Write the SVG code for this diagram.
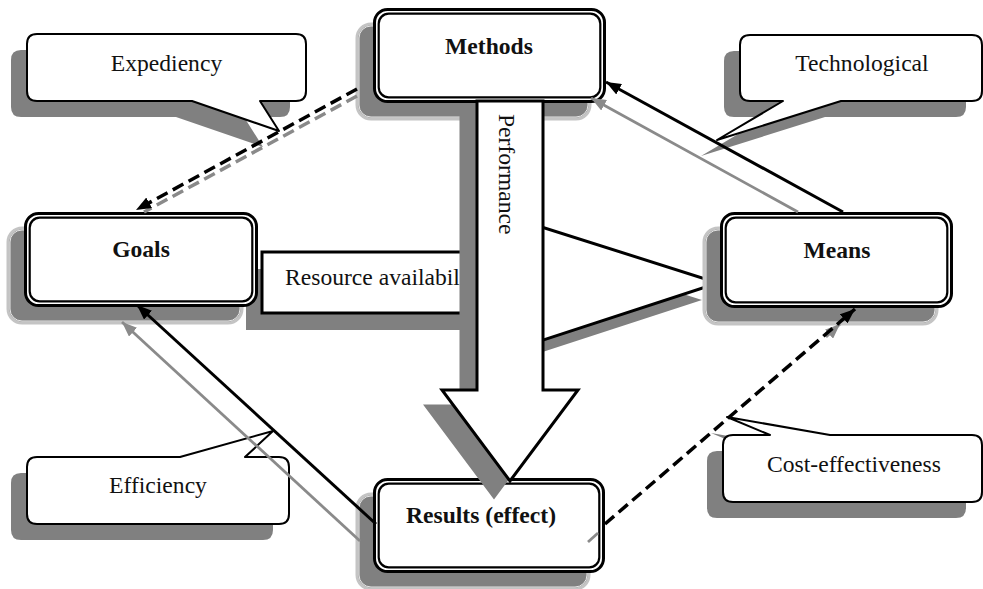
<svg xmlns="http://www.w3.org/2000/svg" width="983" height="589" viewBox="0 0 983 589">
<defs>
<style>
.t{font-family:"Liberation Serif","Times New Roman",serif;font-size:23.6px;fill:#111}
.b{font-weight:bold;text-anchor:middle}
.c{text-anchor:middle}
.sh{fill:#808080}
.co{fill:#fff;stroke:#000;stroke-width:2;stroke-linejoin:round}
.nsh{fill:#808080;stroke:#c4c4c4;stroke-width:3}
.nsi{fill:none;stroke:#fff;stroke-width:0.8}
.no{fill:#fff;stroke:#000;stroke-width:3}
.ni{fill:none;stroke:#000;stroke-width:2.2}
.k{stroke:#000;stroke-width:3;fill:none}
.g{stroke:#8a8a8a;stroke-width:2.8;fill:none}
.d{stroke-dasharray:12 6;stroke-width:3.5}
</style>
<marker id="ak" markerUnits="userSpaceOnUse" markerWidth="15" markerHeight="12" refX="15" refY="6" orient="auto"><path d="M0,0 L15,6 L0,12 Z" fill="#000"/></marker>
<marker id="ag" markerUnits="userSpaceOnUse" markerWidth="15" markerHeight="12" refX="15" refY="6" orient="auto"><path d="M0,0 L15,6 L0,12 Z" fill="#8a8a8a"/></marker>
</defs>
<rect width="983" height="589" fill="#fff"/>

<g id="callout-expediency">
<path class="sh" transform="translate(-16,16)" d="M37,34 H296 Q306,34 306,44 V91 Q306,101 296,101 H260 L279,131 L192,101 H37 Q27,101 27,91 V44 Q27,34 37,34 Z"/>
<path class="co" d="M37,34 H296 Q306,34 306,44 V91 Q306,101 296,101 H260 L279,131 L192,101 H37 Q27,101 27,91 V44 Q27,34 37,34 Z"/>
<text class="t c" x="166.5" y="71">Expediency</text>
</g>
<g id="callout-technological">
<path class="sh" transform="translate(-16,16)" d="M750,35 H972 Q982,35 982,45 V91 Q982,101 972,101 H841 L717,140 L783,101 H750 Q740,101 740,91 V45 Q740,35 750,35 Z"/>
<path class="co" d="M750,35 H972 Q982,35 982,45 V91 Q982,101 972,101 H841 L717,140 L783,101 H750 Q740,101 740,91 V45 Q740,35 750,35 Z"/>
<text class="t c" x="862" y="71">Technological</text>
</g>
<g id="callout-efficiency">
<path class="sh" transform="translate(-16,16)" d="M37,457 H180 L273,431 L245,457 H279 Q289,457 289,467 V514 Q289,524 279,524 H37 Q27,524 27,514 V467 Q27,457 37,457 Z"/>
<path class="co" d="M37,457 H180 L273,431 L245,457 H279 Q289,457 289,467 V514 Q289,524 279,524 H37 Q27,524 27,514 V467 Q27,457 37,457 Z"/>
<text class="t c" x="158" y="493">Efficiency</text>
</g>
<g id="callout-cost">
<path class="sh" transform="translate(-16,16)" d="M733,435 H770 L727,417 L830,435 H972 Q982,435 982,445 V492 Q982,502 972,502 H733 Q723,502 723,492 V445 Q723,435 733,435 Z"/>
<path class="co" d="M733,435 H770 L727,417 L830,435 H972 Q982,435 982,445 V492 Q982,502 972,502 H733 Q723,502 723,492 V445 Q723,435 733,435 Z"/>
<text class="t c" x="854" y="472">Cost-effectiveness</text>
</g>
<g id="callout-resource">
<polygon class="sh" points="246,269 469,269 469,226 702,300 469,376 469,330 246,330"/>
<polygon fill="#fff" stroke="#000" stroke-width="3" points="262,252 485,252 485,209 718,283 485,359 485,313 262,313"/>
<text class="t" x="285" y="285">Resource availability</text>
</g>

<g id="goals">
<rect class="nsh" x="8" y="228" width="234" height="95" rx="14"/>
<rect class="nsi" x="10" y="230" width="230" height="91" rx="12"/>
<rect class="no" x="25.5" y="213.5" width="231" height="92" rx="13"/>
<rect class="ni" x="29.7" y="217.7" width="222.6" height="83.6" rx="10"/>
<text class="t b" x="141" y="257">Goals</text>
</g>
<g id="methods">
<rect class="nsh" x="357" y="24" width="233" height="95" rx="14"/>
<rect class="nsi" x="359" y="26" width="229" height="91" rx="12"/>
<rect class="no" x="374.5" y="9.5" width="230" height="92" rx="13"/>
<rect class="ni" x="378.7" y="13.7" width="221.6" height="83.6" rx="10"/>
<text class="t b" x="489" y="54">Methods</text>
</g>
<g id="means">
<rect class="nsh" x="704" y="228" width="233" height="96" rx="14"/>
<rect class="nsi" x="706" y="230" width="229" height="92" rx="12"/>
<rect class="no" x="721.5" y="213.5" width="230" height="93" rx="13"/>
<rect class="ni" x="725.7" y="217.7" width="221.6" height="84.6" rx="10"/>
<text class="t b" x="837" y="258">Means</text>
</g>
<g id="results">
<rect class="nsh" x="357" y="494" width="232" height="95" rx="14"/>
<rect class="nsi" x="359" y="496" width="228" height="91" rx="12"/>
<rect class="no" x="374.5" y="479.5" width="229" height="92" rx="13"/>
<rect class="ni" x="378.7" y="483.7" width="220.6" height="83.6" rx="10"/>
<text class="t b" x="481" y="523">Results (effect)</text>
</g>

<g id="performance">
<polygon fill="#808080" stroke="#808080" stroke-width="3" transform="translate(-16,16)" points="477,101 543,101 543,390 578,390 510,481 442,390 477,390"/>
<polygon fill="#fff" stroke="#000" stroke-width="3" points="477,101 543,101 543,390 578,390 510,481 442,390 477,390"/>
<text class="t" transform="translate(499,114) rotate(90)" x="0" y="0">Performance</text>
</g>

<g id="connectors">
<line class="g d" x1="357" y1="96" x2="144" y2="212"/>
<line class="k d" x1="357" y1="89" x2="136" y2="210" marker-end="url(#ak)"/>
<line class="g" x1="798" y1="212" x2="591" y2="98" marker-end="url(#ag)"/>
<line class="k" x1="843" y1="212" x2="606" y2="82" marker-end="url(#ak)"/>
<line class="g" x1="360" y1="541" x2="122" y2="322" marker-end="url(#ag)"/>
<line class="k" x1="376" y1="524" x2="137" y2="305" marker-end="url(#ak)"/>
<line class="g" stroke-width="3.5" x1="588" y1="542" x2="598" y2="533"/>
<line class="g" stroke-width="3" x1="826" y1="337" x2="840" y2="324" marker-end="url(#ag)"/>
<line class="k d" x1="605" y1="524" x2="855" y2="309" marker-end="url(#ak)"/>
</g>
</svg>
